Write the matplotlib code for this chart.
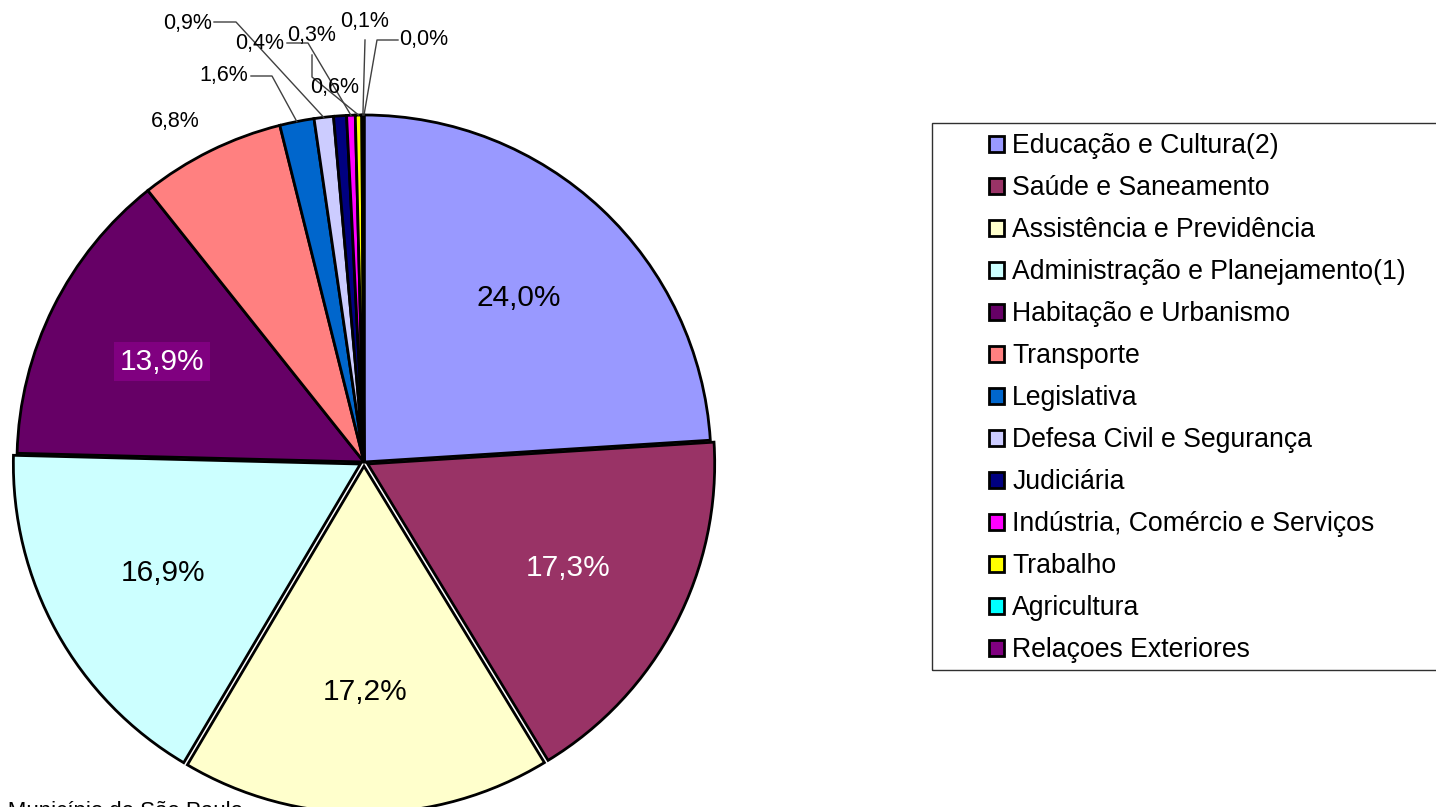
import matplotlib.pyplot as plt
import numpy as np

plt.rcParams['font.family'] = ['Liberation Sans', 'DejaVu Sans']

categories = ['Educação e Cultura(2)', 'Saúde e Saneamento', 'Assistência e Previdência',
              'Administração e Planejamento(1)', 'Habitação e Urbanismo', 'Transporte',
              'Legislativa', 'Defesa Civil e Segurança', 'Judiciária',
              'Indústria, Comércio e Serviços', 'Trabalho', 'Agricultura', 'Relaçoes Exteriores']
shares = [24.0, 17.3, 17.2, 16.9, 13.9, 6.8, 1.6, 0.9, 0.6, 0.4, 0.3, 0.1, 0.0]
colors = ['#9999FF', '#993366', '#FFFFCC', '#CCFFFF', '#660066', '#FF8080', '#0066CC',
          '#CCCCFF', '#000080', '#FF00FF', '#FFFF00', '#00FFFF', '#800080']

W, H = 1436, 807
fig = plt.figure(figsize=(W / 100, H / 100), dpi=100)

# pie centre / radius in image pixels
cx, cy, R = 364, 462, 347
ax = fig.add_axes([(cx - R) / W, (H - cy - R) / H, 2 * R / W, 2 * R / H])


def px2d(x, y):
    return (x - cx) / R, (cy - y) / R


def fmt_pct(v):
    return f'{v:.1f}'.replace('.', ',') + '%'


explode = [0, 0.012, 0.012, 0.012, 0, 0, 0, 0, 0, 0, 0, 0, 0]
wedges, _, autotexts = ax.pie(shares, colors=colors, startangle=90, counterclock=False,
                              explode=explode,
                              wedgeprops=dict(edgecolor='black', linewidth=2),
                              autopct=lambda p: fmt_pct(p) if p > 10 else '',
                              pctdistance=0.65, textprops=dict(fontsize=21.5))
ax.set_xlim(-1, 1)
ax.set_ylim(-1, 1)
ax.set_aspect('equal')
ax.axis('off')

# inside label colours
autotexts[1].set_color('white')
autotexts[4].set_color('white')
autotexts[4].set_bbox(dict(facecolor='#800080', edgecolor='none', pad=4))

# outside labels: (text position px, elbow points px)
outside = {
    5: ((175, 122), []),
    6: ((224, 76), [(251, 76), (272, 76)]),
    7: ((188, 23), [(214, 22), (236, 22)]),
    8: ((335, 87), []),
    9: ((260, 43), [(287, 43), (308, 43)]),
    10: ((312, 35), [(312, 55), (312, 77)]),
    11: ((365, 21), [(365, 40)]),
    12: ((424, 40), [(398, 40), (377, 40)]),
}
for i, (pos, elbow) in outside.items():
    tx, ty = px2d(*pos)
    ax.text(tx, ty, fmt_pct(shares[i]), fontsize=15.5, ha='center', va='center')
    if elbow:
        w = wedges[i]
        mid = np.deg2rad((w.theta1 + w.theta2) / 2)
        end = (w.center[0] + w.r * np.cos(mid), w.center[1] + w.r * np.sin(mid))
        pts = [px2d(*p) for p in elbow] + [end]
        xs, ys = zip(*pts)
        ax.plot(xs, ys, color='#404040', lw=1, clip_on=False)

# legend with manual frame
fig.patches.append(plt.Rectangle((932 / W, 1 - 670 / H), (W - 932 + 10) / W, (670 - 123) / H,
                                 transform=fig.transFigure, fill=False,
                                 edgecolor='#303030', lw=1))
fig.legend(wedges, categories, loc='upper left', bbox_to_anchor=(976 / W, 1 - 120 / H),
           frameon=False, fontsize=19.2, borderpad=0, handlelength=0.56, handleheight=0.56,
           handletextpad=0.3, labelspacing=0.6)

fig.text(243 / W, 6 / H, 'Fonte: Prefeitura do Município de São Paulo', ha='right', va='top',
         fontsize=16)

fig.savefig('out.png', dpi=100)
